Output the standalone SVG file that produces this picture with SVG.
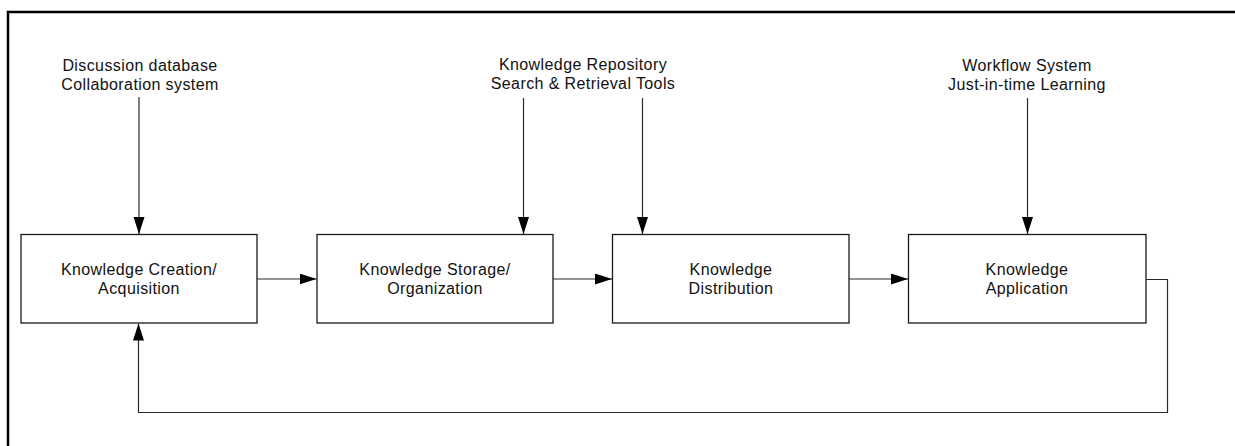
<svg xmlns="http://www.w3.org/2000/svg" width="1235" height="446" viewBox="0 0 1235 446">
<style>
.box{fill:#fff;stroke:#1a1a1a;stroke-width:1.3}
.t{font-family:"Liberation Sans",Arial,sans-serif;font-size:16px;letter-spacing:0.4px;fill:#111;text-anchor:middle}
.c{fill:none;stroke:#2a2a2a;stroke-width:1.2}
</style>
<defs>
<marker id="ah" markerUnits="userSpaceOnUse" markerWidth="17" markerHeight="12" refX="17" refY="5.5" orient="auto">
<path d="M0,0 L17,5.5 L0,11 z" fill="#000"/>
</marker>
</defs>
<rect width="1235" height="446" fill="#fff"/>
<path d="M8,446 V12 H1235" fill="none" stroke="#000" stroke-width="2.5"/>
<g id="src1">
<text class="t" x="140" y="71">Discussion database</text>
<text class="t" x="140" y="90">Collaboration system</text>
</g>
<g id="src2">
<text class="t" x="583" y="70">Knowledge Repository</text>
<text class="t" x="583" y="89">Search &amp; Retrieval Tools</text>
</g>
<g id="src3">
<text class="t" x="1027" y="71">Workflow System</text>
<text class="t" x="1027" y="90">Just-in-time Learning</text>
</g>
<g id="n1">
<rect class="box" x="21" y="234.5" width="236" height="88.5"/>
<text class="t" x="139" y="275">Knowledge Creation/</text>
<text class="t" x="139" y="294">Acquisition</text>
</g>
<g id="n2">
<rect class="box" x="317" y="234.5" width="236" height="88.5"/>
<text class="t" x="435" y="275">Knowledge Storage/</text>
<text class="t" x="435" y="294">Organization</text>
</g>
<g id="n3">
<rect class="box" x="612.5" y="234.5" width="236.5" height="88.5"/>
<text class="t" x="731" y="275">Knowledge</text>
<text class="t" x="731" y="294">Distribution</text>
</g>
<g id="n4">
<rect class="box" x="908.5" y="234.5" width="237.5" height="88.5"/>
<text class="t" x="1027" y="275">Knowledge</text>
<text class="t" x="1027" y="294">Application</text>
</g>
<g id="connectors">
<path class="c" d="M139,97 V234" marker-end="url(#ah)"/>
<path class="c" d="M523.5,98 V234" marker-end="url(#ah)"/>
<path class="c" d="M642.5,98 V234" marker-end="url(#ah)"/>
<path class="c" d="M1027.5,98 V234" marker-end="url(#ah)"/>
<path class="c" d="M257,279 H316.5" marker-end="url(#ah)"/>
<path class="c" d="M553,279 H612" marker-end="url(#ah)"/>
<path class="c" d="M849,279 H908" marker-end="url(#ah)"/>
<path class="c" d="M1146,279.5 H1167.5 V412.5 H138.5 V323.5" marker-end="url(#ah)"/>
</g>
</svg>
